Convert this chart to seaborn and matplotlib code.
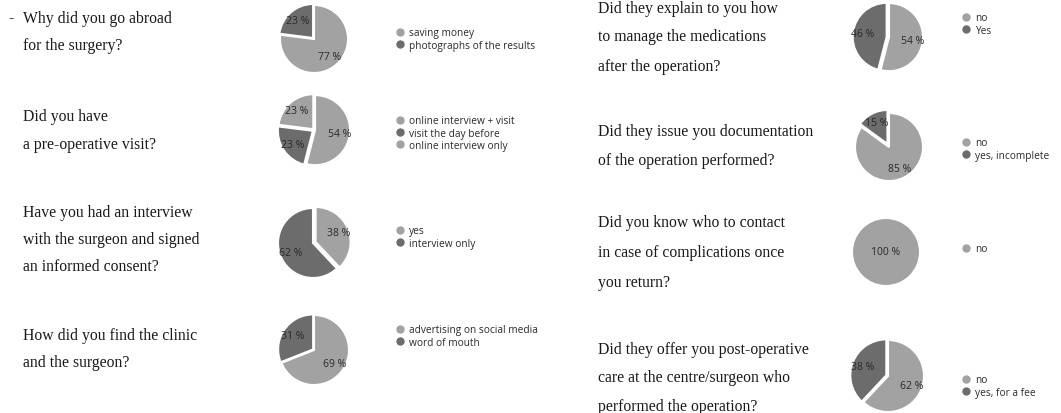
import matplotlib
matplotlib.use("Agg")
import matplotlib.pyplot as plt
from matplotlib.lines import Line2D
import seaborn as sns

sns.set_theme(style="white")

W, H = 1061, 414

LIGHT = "#a2a2a2"
DARK = "#6c6c6c"

# ---- data ----
q1 = ["Why did you go abroad", "for the surgery?"]
labels1 = ["saving money", "photographs of the results"]
values1 = [77, 23]

q2 = ["Did you have", "a pre-operative visit?"]
labels2 = ["online interview + visit", "visit the day before", "online interview only"]
values2 = [54, 23, 23]

q3 = ["Have you had an interview", "with the surgeon and signed", "an informed consent?"]
labels3 = ["yes", "interview only"]
values3 = [38, 62]

q4 = ["How did you find the clinic", "and the surgeon?"]
labels4 = ["advertising on social media", "word of mouth"]
values4 = [69, 31]

q5 = ["Did they explain to you how", "to manage the medications", "after the operation?"]
labels5 = ["no", "Yes"]
values5 = [54, 46]

q6 = ["Did they issue you documentation", "of the operation performed?"]
labels6 = ["no", "yes, incomplete"]
values6 = [85, 15]

q7 = ["Did you know who to contact", "in case of complications once", "you return?"]
labels7 = ["no"]
values7 = [100]

q8 = ["Did they offer you post-operative", "care at the centre/surgeon who", "performed the operation?"]
labels8 = ["no", "yes, for a fee"]
values8 = [62, 38]

panels = [
    dict(q=q1, l=labels1, v=values1, c=[LIGHT, DARK], e=[0, 0.04], tx=23, ty=[19, 46], pc=(314, 40), r=34, lx=401, ly=40),
    dict(q=q2, l=labels2, v=values2, c=[LIGHT, DARK, LIGHT], e=[0.03, 0.04, 0.03], tx=23, ty=[117, 145], pc=(314, 131), r=35, lx=401, ly=134),
    dict(q=q3, l=labels3, v=values3, c=[LIGHT, DARK], e=[0.08, 0], tx=23, ty=[213, 240, 267], pc=(313, 244), r=35, lx=401, ly=238),
    dict(q=q4, l=labels4, v=values4, c=[LIGHT, DARK], e=[0, 0.03], tx=23, ty=[336, 363], pc=(314, 351), r=35, lx=401, ly=337),
    dict(q=q5, l=labels5, v=values5, c=[LIGHT, DARK], e=[0.03, 0.04], tx=598, ty=[9, 37, 67], pc=(888, 38), r=34, lx=967, ly=25),
    dict(q=q6, l=labels6, v=values6, c=[LIGHT, DARK], e=[0, 0.1], tx=598, ty=[132, 161], pc=(889, 148), r=34, lx=967, ly=150),
    dict(q=q7, l=labels7, v=values7, c=[LIGHT], e=[0], tx=598, ty=[223, 253, 283], pc=(886, 253), r=34, lx=967, ly=250),
    dict(q=q8, l=labels8, v=values8, c=[LIGHT, DARK], e=[0, 0.05], tx=598, ty=[350, 378, 407], pc=(888, 377), r=36, lx=967, ly=387),
]

fig = plt.figure(figsize=(W / 100, H / 100), dpi=100)
fig.patch.set_facecolor("white")

# leading dash of the first question
fig.text(8 / W, 1 - 18 / H, "-", family="Liberation Serif", fontsize=11.3,
         color="#1a1a1a", ha="left", va="center")

for p in panels:
    for i, line in enumerate(p["q"]):
        fig.text(p["tx"] / W, 1 - p["ty"][i] / H, line, family="Liberation Serif",
                 fontsize=11.3, color="#1a1a1a", ha="left", va="center")
    cx, cy = p["pc"]
    r = p["r"]
    ax = fig.add_axes([(cx - r) / W, 1 - (cy + r) / H, 2 * r / W, 2 * r / H])
    wedges, texts, autotexts = ax.pie(
        p["v"], colors=p["c"], explode=p["e"], startangle=90, counterclock=False,
        autopct=lambda pct: f"{pct:.0f} %", pctdistance=0.7 if len(p["v"]) > 1 else 0,
        wedgeprops=dict(edgecolor="white", linewidth=1.5), radius=1.0,
        textprops=dict(fontsize=7.5, color="#2a2a2a", family="Open Sans"))
    ax.set_xlim(-1.0, 1.0)
    ax.set_ylim(-1.0, 1.0)
    ax.set_aspect("equal")
    ax.axis("off")
    for w in wedges:
        w.set_clip_on(False)
    handles = [Line2D([0], [0], marker="o", linestyle="none", markersize=5,
                      markerfacecolor=c, markeredgecolor=c) for c in p["c"]]
    fig.legend(handles, p["l"], loc="center left",
               bbox_to_anchor=((p["lx"] - 4) / W, 1 - p["ly"] / H),
               frameon=False, handlelength=0.6, handletextpad=0.6,
               labelspacing=0.1, borderpad=0, borderaxespad=0,
               prop=dict(family="Open Sans", size=7.3), labelcolor="#2a2a2a")

fig.savefig("out.png", dpi=100, facecolor="white")
